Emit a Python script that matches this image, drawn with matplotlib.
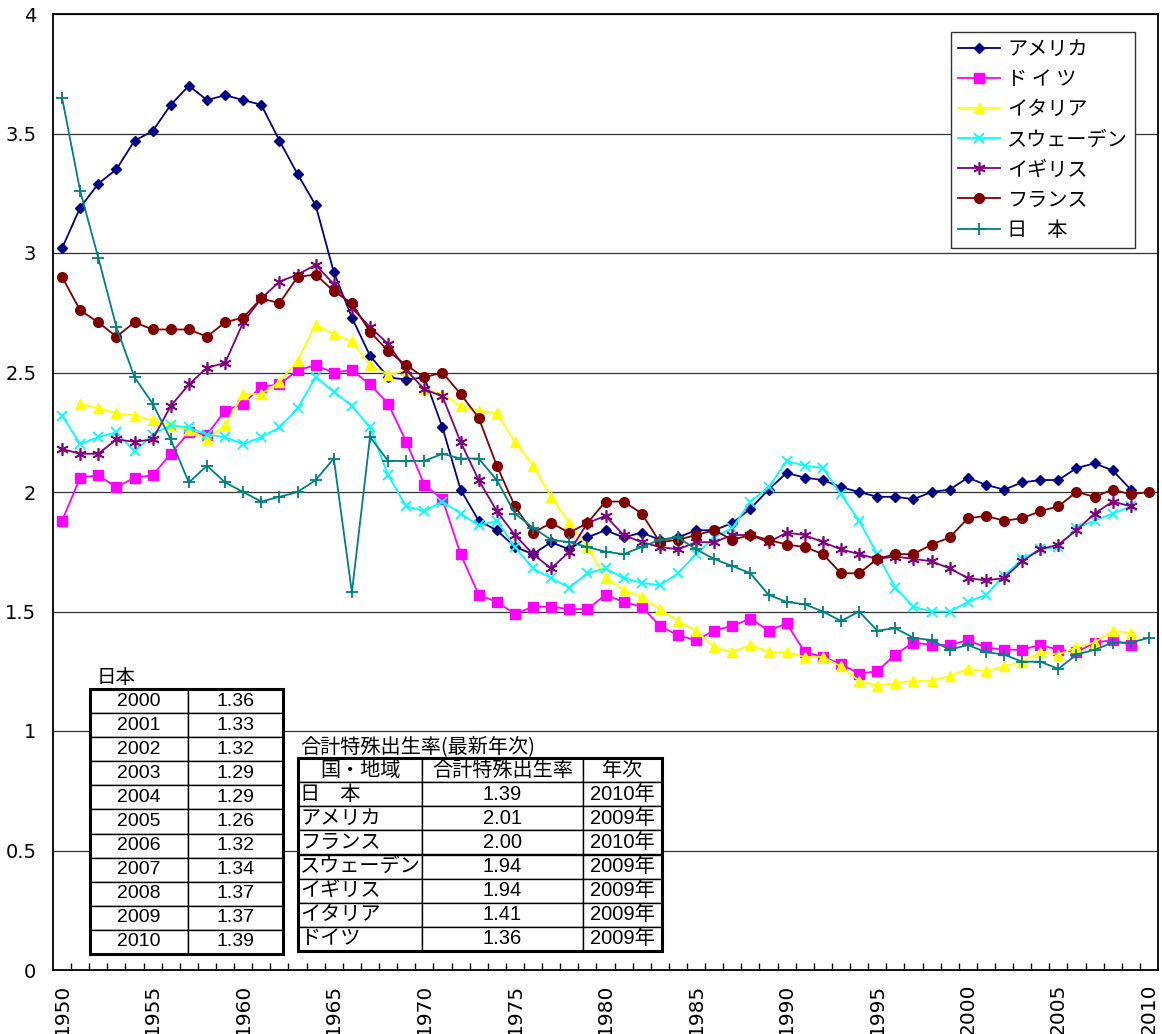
import numpy as np
import matplotlib
matplotlib.use("Agg")
import matplotlib.pyplot as plt
from matplotlib.patches import Rectangle

plt.rcParams['font.family'] = ['Noto Sans CJK JP', 'DejaVu Sans']

# data (total fertility rate, 1950-2010)
years = list(range(1950, 2011))
nan = np.nan

usa = [3.02, 3.19, 3.29, 3.35, 3.47, 3.51, 3.62, 3.70, 3.64, 3.66,
       3.64, 3.62, 3.47, 3.33, 3.20, 2.92, 2.73, 2.57, 2.48, 2.47,
       2.48, 2.27, 2.01, 1.88, 1.84, 1.77, 1.74, 1.79, 1.76, 1.81,
       1.84, 1.81, 1.83, 1.80, 1.81, 1.84, 1.84, 1.87, 1.93, 2.01,
       2.08, 2.06, 2.05, 2.02, 2.00, 1.98, 1.98, 1.97, 2.00, 2.01,
       2.06, 2.03, 2.01, 2.04, 2.05, 2.05, 2.10, 2.12, 2.09, 2.01, nan]
germany = [1.88, 2.06, 2.07, 2.02, 2.06, 2.07, 2.16, 2.25, 2.24, 2.34,
           2.37, 2.44, 2.45, 2.51, 2.53, 2.50, 2.51, 2.45, 2.37, 2.21,
           2.03, 1.97, 1.74, 1.57, 1.54, 1.49, 1.52, 1.52, 1.51, 1.51,
           1.57, 1.54, 1.52, 1.44, 1.40, 1.38, 1.42, 1.44, 1.47, 1.42,
           1.45, 1.33, 1.31, 1.28, 1.24, 1.25, 1.32, 1.37, 1.36, 1.36,
           1.38, 1.35, 1.34, 1.34, 1.36, 1.34, 1.33, 1.37, 1.38, 1.36, nan]
italy = [nan, 2.37, 2.35, 2.33, 2.32, 2.30, 2.28, 2.26, 2.22, 2.28,
         2.41, 2.41, 2.46, 2.55, 2.70, 2.66, 2.63, 2.53, 2.49, 2.51,
         2.43, 2.41, 2.36, 2.34, 2.33, 2.21, 2.11, 1.98, 1.87, 1.77,
         1.64, 1.59, 1.56, 1.51, 1.46, 1.42, 1.35, 1.33, 1.36, 1.33,
         1.33, 1.31, 1.31, 1.27, 1.21, 1.19, 1.20, 1.21, 1.21, 1.23,
         1.26, 1.25, 1.27, 1.29, 1.33, 1.32, 1.35, 1.37, 1.42, 1.41, nan]
sweden = [2.32, 2.20, 2.23, 2.25, 2.17, 2.24, 2.28, 2.27, 2.24, 2.23,
          2.20, 2.23, 2.27, 2.35, 2.48, 2.42, 2.36, 2.27, 2.07, 1.94,
          1.92, 1.96, 1.91, 1.86, 1.88, 1.77, 1.68, 1.64, 1.60, 1.66,
          1.68, 1.64, 1.62, 1.61, 1.66, 1.74, 1.81, 1.85, 1.96, 2.02,
          2.13, 2.11, 2.10, 1.99, 1.88, 1.74, 1.60, 1.52, 1.50, 1.50,
          1.54, 1.57, 1.65, 1.72, 1.76, 1.77, 1.85, 1.88, 1.91, 1.94, nan]
uk = [2.18, 2.16, 2.16, 2.22, 2.21, 2.22, 2.36, 2.45, 2.52, 2.54,
      2.71, 2.81, 2.88, 2.91, 2.95, 2.87, 2.77, 2.69, 2.62, 2.51,
      2.43, 2.40, 2.21, 2.05, 1.92, 1.82, 1.74, 1.68, 1.75, 1.87,
      1.90, 1.82, 1.79, 1.77, 1.76, 1.79, 1.79, 1.82, 1.82, 1.79,
      1.83, 1.82, 1.79, 1.76, 1.74, 1.72, 1.73, 1.72, 1.71, 1.68,
      1.64, 1.63, 1.64, 1.71, 1.76, 1.78, 1.84, 1.91, 1.96, 1.94, nan]
france = [2.90, 2.76, 2.71, 2.65, 2.71, 2.68, 2.68, 2.68, 2.65, 2.71,
          2.73, 2.81, 2.79, 2.90, 2.91, 2.84, 2.79, 2.67, 2.59, 2.53,
          2.48, 2.50, 2.41, 2.31, 2.11, 1.94, 1.83, 1.87, 1.83, 1.87,
          1.96, 1.96, 1.91, 1.79, 1.80, 1.82, 1.84, 1.80, 1.82, 1.80,
          1.78, 1.77, 1.74, 1.66, 1.66, 1.72, 1.74, 1.74, 1.78, 1.81,
          1.89, 1.90, 1.88, 1.89, 1.92, 1.94, 2.00, 1.98, 2.01, 1.99, 2.00]
japan = [3.65, 3.26, 2.98, 2.69, 2.48, 2.37, 2.22, 2.04, 2.11, 2.04,
         2.00, 1.96, 1.98, 2.00, 2.05, 2.14, 1.58, 2.23, 2.13, 2.13,
         2.13, 2.16, 2.14, 2.14, 2.05, 1.91, 1.85, 1.80, 1.79, 1.77,
         1.75, 1.74, 1.77, 1.80, 1.81, 1.76, 1.72, 1.69, 1.66, 1.57,
         1.54, 1.53, 1.50, 1.46, 1.50, 1.42, 1.43, 1.39, 1.38, 1.34,
         1.36, 1.33, 1.32, 1.29, 1.29, 1.26, 1.32, 1.34, 1.37, 1.37, 1.39]

series_names = ['アメリカ', 'ド イ ツ', 'イタリア', 'スウェーデン', 'イギリス', 'フランス', '日\u3000本']
series_data = [usa, germany, italy, sweden, uk, france, japan]

# table data
jp_years = ['2000', '2001', '2002', '2003', '2004', '2005', '2006', '2007', '2008', '2009', '2010']
jp_values = ['1.36', '1.33', '1.32', '1.29', '1.29', '1.26', '1.32', '1.34', '1.37', '1.37', '1.39']
latest_header = ['国・地域', '合計特殊出生率', '年次']
latest_country = ['日\u3000本', 'アメリカ', 'フランス', 'スウェーデン', 'イギリス', 'イタリア', 'ドイツ']
latest_tfr = ['1.39', '2.01', '2.00', '1.94', '1.94', '1.41', '1.36']
latest_year = ['2010年', '2009年', '2010年', '2009年', '2009年', '2009年', '2009年']

styles = [
    dict(color='#000080', marker='D', ms=5.5),
    dict(color='#FF00FF', marker='s', ms=6.5),
    dict(color='#FFFF00', marker='^', ms=7.5),
    dict(color='#00FFFF', marker='x', ms=7, mew=1.3),
    dict(color='#800080', marker=(6, 2, 0), ms=9, mew=1.2),
    dict(color='#800000', marker='o', ms=7),
    dict(color='#008080', marker='+', ms=9, mew=1.3),
]

cell_font = ['Liberation Sans', 'Noto Sans CJK JP']

fig = plt.figure(figsize=(11.62, 10.34), dpi=100)
ax = fig.add_axes([53/1162, 1 - 970/1034, 1105/1162, 956/1034])

x = np.arange(len(years))
for name, vals, st in zip(series_names, series_data, styles):
    ax.plot(x, vals, label=name, lw=1.3, mec=st['color'], mfc=st['color'], **st)

ax.set_xlim(-0.5, len(years) - 0.5)
ax.set_ylim(0, 4)
ax.set_yticks(np.arange(0, 4.01, 0.5))
ax.set_yticklabels(['0', '0.5', '1', '1.5', '2', '2.5', '3', '3.5', '4'],
                   fontfamily='DejaVu Sans', fontsize=14)
ax.tick_params(axis='y', length=0, pad=12)

ax.set_xticks(x[::5])
ax.set_xticklabels([str(y) for y in years[::5]], rotation=90,
                   fontfamily='DejaVu Sans', fontsize=14.5)
ax.set_xticks(np.arange(0.5, len(years) - 1, 1.0), minor=True)
ax.tick_params(axis='x', which='major', length=0, pad=10)
ax.tick_params(axis='x', which='minor', direction='in', length=5, width=1, color='black')

ax.yaxis.grid(True, color='#333333', lw=0.9)
ax.set_axisbelow(True)
for sp in ax.spines.values():
    sp.set_linewidth(1.3)
    sp.set_color('black')

leg = ax.legend(loc='upper right', bbox_to_anchor=(0.979, 0.981), borderaxespad=0,
                fontsize=14.5, frameon=True, fancybox=False, edgecolor='#333333',
                framealpha=1, handlelength=2.1, handletextpad=0.35,
                labelspacing=0.45, borderpad=0.35)
leg.get_frame().set_linewidth(1.0)
leg.set_zorder(6)

# Japan table
t1_bbox = [37/1105, 16/956, 193/1105, 265/956]
t1 = ax.table(cellText=[[a, b] for a, b in zip(jp_years, jp_values)],
              colWidths=[98/193, 95/193], cellLoc='center', bbox=t1_bbox)
t1.auto_set_font_size(False)
t1.set_fontsize(14)
t1.set_zorder(5)
for c in t1.get_celld().values():
    c.set_linewidth(1.0)
    c.set_edgecolor('black')
    c.set_text_props(fontfamily=cell_font)
ax.add_patch(Rectangle((t1_bbox[0], t1_bbox[1]), t1_bbox[2], t1_bbox[3],
                       transform=ax.transAxes, fill=False, lw=2.2,
                       edgecolor='black', zorder=7))
ax.text(t1_bbox[0] + 0.006, t1_bbox[1] + t1_bbox[3] + 0.001, '日本',
        transform=ax.transAxes, fontsize=14, va='bottom', ha='left', zorder=7)

# latest TFR table
t2_bbox = [245/1105, 19/956, 364/1105, 193/956]
rows2 = [latest_header] + [[a, b, c] for a, b, c in zip(latest_country, latest_tfr, latest_year)]
t2 = ax.table(cellText=rows2, colWidths=[124/364, 161/364, 79/364],
              cellLoc='center', bbox=t2_bbox)
t2.auto_set_font_size(False)
t2.set_fontsize(14.5)
t2.set_zorder(5)
for (r, cidx), c in t2.get_celld().items():
    c.set_linewidth(1.0)
    c.set_edgecolor('black')
    if r > 0 and cidx > 0:
        c.set_text_props(fontfamily=cell_font)
    if cidx == 0 and r > 0:
        c.PAD = 0.02
        c.set_text_props(ha='left')
ax.add_patch(Rectangle((t2_bbox[0], t2_bbox[1]), t2_bbox[2], t2_bbox[3],
                       transform=ax.transAxes, fill=False, lw=2.2,
                       edgecolor='black', zorder=7))
ax.text(t2_bbox[0] + 0.002, t2_bbox[1] + t2_bbox[3] + 0.001, '合計特殊出生率(最新年次)',
        transform=ax.transAxes, fontsize=14.5, va='bottom', ha='left', zorder=7)

fig.savefig('out.png', dpi=100)
